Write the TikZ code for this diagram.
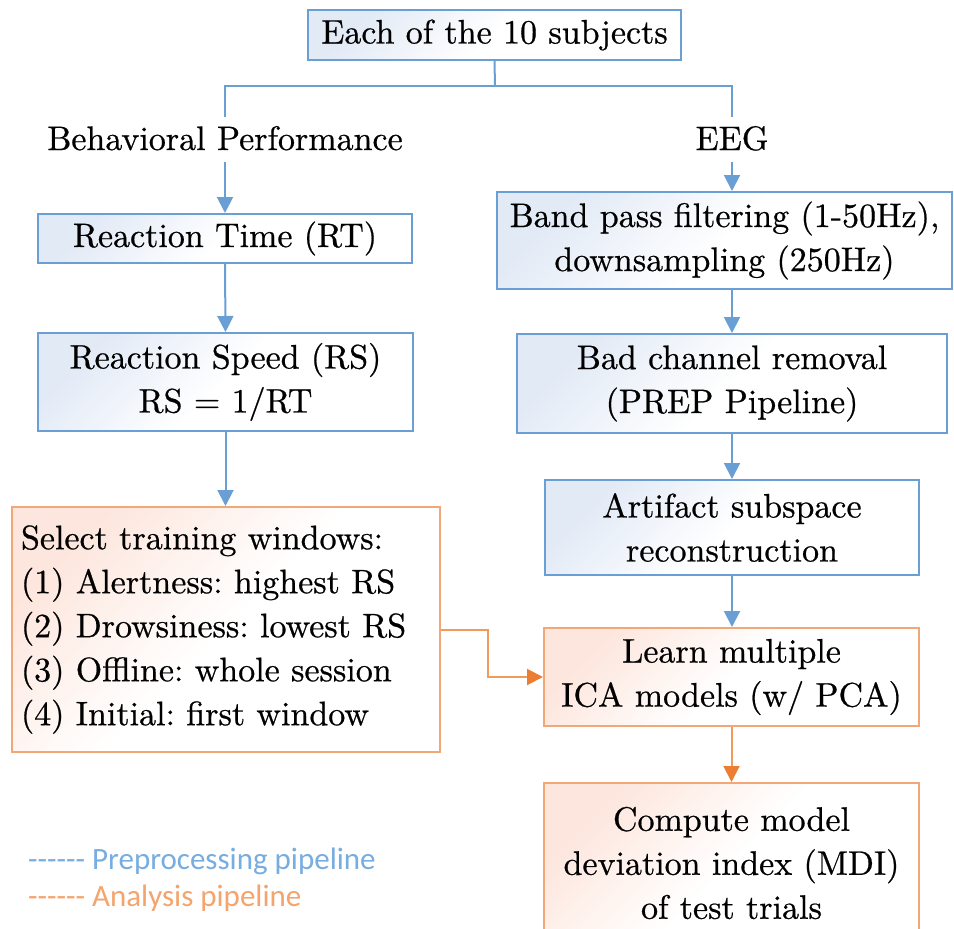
\documentclass[tikz,border=0pt]{standalone}
\usepackage{fontspec}
\newfontfamily\boxfont{lmroman10-regular}[Extension=.otf, FakeBold=0.6]
\newfontfamily\legendfont{Carlito}
\usetikzlibrary{arrows.meta}

\definecolor{bline}{HTML}{6A9FD6}
\definecolor{bfill}{HTML}{E2EAF6}
\definecolor{oline}{HTML}{F09A5E}
\definecolor{ohead}{HTML}{ED7D31}
\definecolor{oborder}{HTML}{F2A777}
\definecolor{ofill}{HTML}{FDE6DD}
\definecolor{blegend}{HTML}{78ADE0}
\definecolor{olegend}{HTML}{F4A46C}

\begin{document}
\begin{tikzpicture}[x=1pt,y=-1pt,
  txt/.style={font=\boxfont\fontsize{34}{44}\selectfont\frenchspacing},
  bluebox/.style={txt, draw=bline, line width=2pt, top color=bfill, bottom color=white,
    middle color=white, shading angle=45, align=center, inner sep=0pt},
  orangebox/.style={txt, draw=oborder, line width=2pt, top color=ofill, bottom color=white,
    middle color=white, shading angle=45, align=center, inner sep=0pt},
  lbl/.style={txt, inner xsep=0pt, inner ysep=8pt, text height=25pt, text depth=4pt, anchor=base},
  bl/.style={draw=bline, line width=2pt},
  barr/.style={bl, -{Triangle[length=16pt,width=16pt]}},
  oarr/.style={draw=oline, line width=2pt, -{Triangle[length=16pt,width=16pt,color=ohead]}},
  legend/.style={font=\legendfont\fontsize{31}{36}\selectfont, anchor=base west, inner sep=0pt}
]
\fill[white] (0,0) rectangle (954,929);
\useasboundingbox (0,0) rectangle (954,929);

% top node and the two branch headings
\node[bluebox, minimum width=373pt, minimum height=50pt] (top) at (494.5,35) {Each of the 10 subjects};
\node[lbl] (bp) at (225,150) {Behavioral Performance};
\node[lbl] (eeg) at (732,150) {EEG};

% behavioural branch
\node[bluebox, minimum width=374pt, minimum height=49pt] (rt) at (225,238.5) {Reaction Time (RT)};
\node[bluebox, minimum width=375pt, minimum height=98pt] (rs) at (225.5,382) {Reaction Speed (RS)\\RS = 1/RT};
\node[orangebox, minimum width=428pt, minimum height=245pt, text width=410pt, align=left, inner xsep=9pt] (sel) at (226,629.5)
  {Select training windows:\\(1) Alertness: highest RS\\(2) Drowsiness: lowest RS\\(3) Offline: whole session\\(4) Initial: first window};

% EEG branch
\node[bluebox, minimum width=455pt, minimum height=97pt] (band) at (724.5,240.5) {Band pass filtering (1-50Hz),\\downsampling (250Hz)};
\node[bluebox, minimum width=430pt, minimum height=99pt] (bad) at (732,383.5) {Bad channel removal\\(PREP Pipeline)};
\node[bluebox, minimum width=374pt, minimum height=95pt] (art) at (732,527.5) {Artifact subspace\\reconstruction};
\node[orangebox, minimum width=375pt, minimum height=98pt] (learn) at (731.5,677) {Learn multiple\\ICA models (w/ PCA)};
\node[orangebox, minimum width=375pt, minimum height=160pt, anchor=north] (comp) at (731.5,782) {Compute model\\deviation index (MDI)\\of test trials};

% connectors
\coordinate (fork) at (495,86);
\draw[bl] (top.south) -- (fork);
\draw[bl] (bp.north) -- (bp.north |- fork) -- (eeg.north |- fork) -- (eeg.north);
\draw[barr] (bp.south) -- (rt.north);
\draw[barr] (eeg.south) -- (eeg.south |- band.north);
\draw[barr] (rt.south) -- (rs.north);
\draw[barr] (rs.south) -- (rs.south |- sel.north);
\draw[barr] (band.south -| bad.north) -- (bad.north);
\draw[barr] (bad.south) -- (bad.south |- art.north);
\draw[barr] (art.south) -- (art.south |- learn.north);
\draw[oarr] (learn.south) -- (learn.south |- comp.north);
\draw[oarr] (sel.east) -- ++(47,0) |- (learn.west);

% legend
\node[legend, text=blegend] (leg1) at (28,869) {------ Preprocessing pipeline};
\node[legend, text=olegend] (leg2) at (28,906) {------ Analysis pipeline};
\end{tikzpicture}
\end{document}
